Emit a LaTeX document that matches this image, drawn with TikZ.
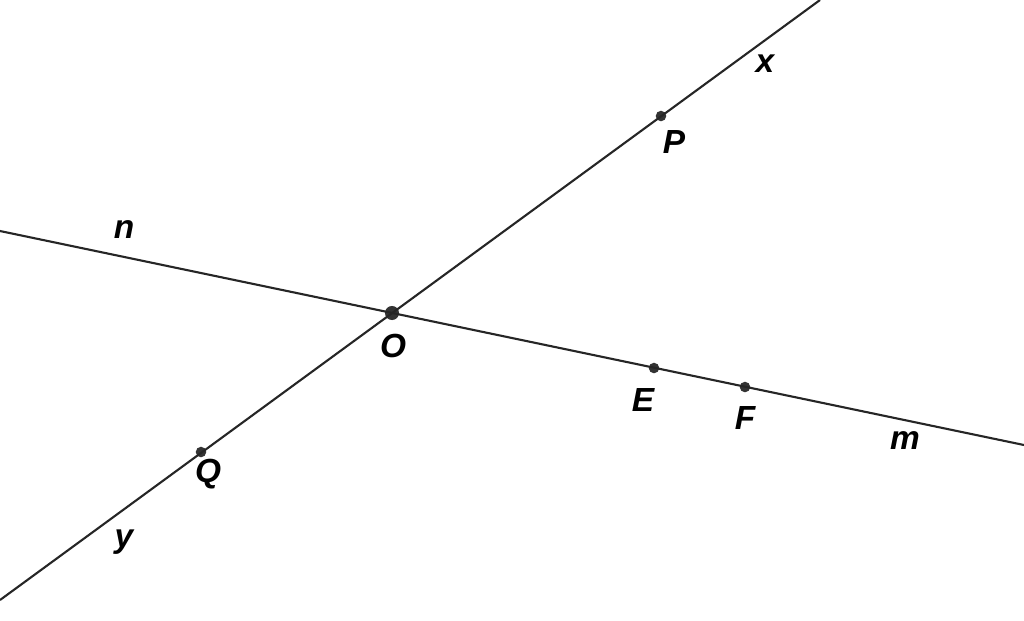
\documentclass[tikz,border=0pt]{standalone}
\usepackage{fontspec}
\setmainfont{Liberation Sans}
\begin{document}
\begin{tikzpicture}[x=0.01cm, y=-0.01cm, font=\fontsize{9.5}{11}\selectfont\bfseries\itshape]
\tikzstyle{pt} = [circle, fill=black!80, inner sep=0pt, minimum size=3pt]
\tikzstyle{ln} = [draw=black!85, line width=0.6pt]
\useasboundingbox (0,0) rectangle (1024,620);

\coordinate (Y) at (0,600);
\coordinate (X) at (820,0);
\coordinate (N) at (0,231);
\coordinate (M) at (1024,445);
\node[pt, minimum size=4pt] (O) at (392,313) {};
\node[pt] (P) at (661,116) {};
\node[pt] (Q) at (201,452) {};
\node[pt] (E) at (654,368) {};
\node[pt] (F) at (745,387) {};

\draw[ln] (Y) -- (X);
\draw[ln] (N) -- (M);

\node (lx) at (765,64) {x};
\node (ly) at (124,542) {y};
\node (ln) at (124,230) {n};
\node (lm) at (905,441) {m};
\node (lO) at (393,346) {O};
\node (lP) at (674,142) {P};
\node (lE) at (643,400) {E};
\node (lF) at (745,418) {F};
\node (lQ) at (208,474) {Q};
\end{tikzpicture}
\end{document}
